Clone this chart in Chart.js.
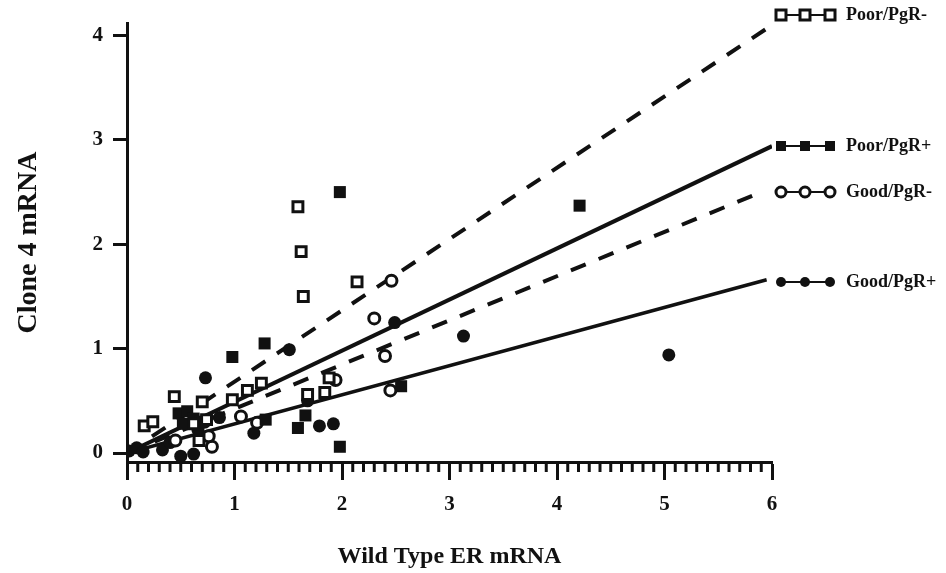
<!DOCTYPE html>
<html>
<head>
<meta charset="utf-8">
<script src="https://cdn.jsdelivr.net/npm/chart.js@4.4.1/dist/chart.umd.min.js"></script>
<style>
  html, body { margin: 0; padding: 0; background: #fff; }
  #wrap { width: 946px; height: 573px; }
</style>
</head>
<body>
<div id="wrap"><canvas id="myChart" width="946" height="573"></canvas></div>
<script>
// axis ticks
var xTicks = [0, 1, 2, 3, 4, 5, 6];
var yTicks = [0, 1, 2, 3, 4];

var seriesNames = ['Poor/PgR-', 'Poor/PgR+', 'Good/PgR-', 'Good/PgR+'];

// Poor/PgR- (open squares)
var poorNegX = [1.59, 1.62, 1.64, 2.14, 0.44, 0.16, 0.24, 0.70, 0.98, 1.12, 1.25, 0.67, 1.68, 1.84, 1.88, 0.62, 0.74];
var poorNegY = [2.36, 1.93, 1.50, 1.64, 0.54, 0.26, 0.30, 0.49, 0.51, 0.60, 0.67, 0.12, 0.56, 0.58, 0.72, 0.28, 0.32];

// Poor/PgR+ (filled squares)
var poorPosX = [1.98, 4.21, 1.28, 0.98, 1.66, 1.59, 1.98, 2.55, 1.29, 0.48, 0.56, 0.62, 0.68, 0.52];
var poorPosY = [2.50, 2.37, 1.05, 0.92, 0.36, 0.24, 0.06, 0.64, 0.32, 0.38, 0.40, 0.33, 0.30, 0.28];

// Good/PgR- (open circles)
var goodNegX = [2.46, 2.30, 2.40, 2.45, 1.94, 1.06, 1.21, 0.79, 0.76, 0.72, 0.45];
var goodNegY = [1.65, 1.29, 0.93, 0.60, 0.70, 0.35, 0.29, 0.06, 0.16, 0.30, 0.12];

// Good/PgR+ (filled circles)
var goodPosX = [0.73, 1.51, 2.49, 3.13, 5.04, 1.18, 1.79, 1.92, 0.33, 0.50, 0.62, 0.02, 0.09, 0.86, 1.68, 0.40, 0.15, 0.66];
var goodPosY = [0.72, 0.99, 1.25, 1.12, 0.94, 0.19, 0.26, 0.28, 0.03, -0.03, -0.01, 0.02, 0.05, 0.34, 0.50, 0.10, 0.01, 0.22];

// regression lines: start and end points
var fitX0 = [0, 0, 0, 0];
var fitY0 = [0, 0, 0, 0];
var fitX1 = [6.0, 6.0, 5.9, 5.95];
var fitY1 = [4.1, 2.94, 2.5, 1.66];

function pts(xs, ys) {
  return xs.map(function (x, i) { return {x: x, y: ys[i]}; });
}
function fit(i) {
  return [{x: fitX0[i], y: fitY0[i]}, {x: fitX1[i], y: fitY1[i]}];
}

var serif = "'Liberation Serif', 'Times New Roman', serif";

var minorTicks = {
  id: 'minorTicks',
  afterDraw: function (chart) {
    var ctx = chart.ctx;
    var xs = chart.scales.x;
    var y0 = chart.chartArea.bottom;
    ctx.save();
    ctx.strokeStyle = '#111';
    ctx.lineWidth = 3;
    for (var k = 1; k < 60; k++) {
      if (k % 10 === 0) continue;
      var px = xs.getPixelForValue(k / 10);
      ctx.beginPath();
      ctx.moveTo(px, y0);
      ctx.lineTo(px, y0 + 10);
      ctx.stroke();
    }
    ctx.restore();
  }
};

var sideLegend = {
  id: 'sideLegend',
  afterDraw: function (chart) {
    var ctx = chart.ctx;
    var rows = [15, 146, 192, 282];
    var styles = ['osq', 'fsq', 'oci', 'fci'];
    ctx.save();
    for (var i = 0; i < seriesNames.length; i++) {
      var y = rows[i];
      ctx.strokeStyle = '#111';
      ctx.lineWidth = 2;
      ctx.beginPath();
      ctx.moveTo(781, y);
      ctx.lineTo(830, y);
      ctx.stroke();
      [781, 805, 830].forEach(function (mx) {
        var s = styles[i];
        ctx.beginPath();
        if (s === 'osq' || s === 'fsq') {
          ctx.rect(mx - 5, y - 5, 10, 10);
        } else {
          ctx.arc(mx, y, 5, 0, Math.PI * 2);
        }
        if (s[0] === 'o') {
          ctx.fillStyle = '#fff';
          ctx.fill();
          ctx.lineWidth = 3;
          ctx.stroke();
        } else {
          ctx.fillStyle = '#111';
          ctx.fill();
        }
      });
      ctx.fillStyle = '#111';
      ctx.font = 'bold 18px ' + serif;
      ctx.textBaseline = 'middle';
      ctx.textAlign = 'left';
      ctx.fillText(seriesNames[i], 846, y);
    }
    ctx.restore();
  }
};

var ctx = document.getElementById('myChart').getContext('2d');
var myChart = new Chart(ctx, {
  type: 'scatter',
  data: {
    datasets: [
      {
        label: seriesNames[0],
        data: pts(poorNegX, poorNegY),
        pointStyle: 'rect',
        pointRadius: 7,
        pointBorderWidth: 3,
        pointBackgroundColor: '#fff',
        pointBorderColor: '#111',
        order: 1
      },
      {
        label: seriesNames[1],
        data: pts(poorPosX, poorPosY),
        pointStyle: 'rect',
        pointRadius: 8.5,
        pointBorderWidth: 0,
        pointBackgroundColor: '#111',
        pointBorderColor: '#111',
        order: 1
      },
      {
        label: seriesNames[2],
        data: pts(goodNegX, goodNegY),
        pointStyle: 'circle',
        pointRadius: 5.5,
        pointBorderWidth: 3,
        pointBackgroundColor: '#fff',
        pointBorderColor: '#111',
        order: 1
      },
      {
        label: seriesNames[3],
        data: pts(goodPosX, goodPosY),
        pointStyle: 'circle',
        pointRadius: 6.5,
        pointBorderWidth: 0,
        pointBackgroundColor: '#111',
        pointBorderColor: '#111',
        order: 1
      },
      {
        label: seriesNames[0] + ' fit',
        data: fit(0),
        showLine: true,
        pointRadius: 0,
        borderColor: '#111',
        borderWidth: 4,
        borderDash: [16, 14],
        order: 2
      },
      {
        label: seriesNames[1] + ' fit',
        data: fit(1),
        showLine: true,
        pointRadius: 0,
        borderColor: '#111',
        borderWidth: 4,
        order: 2
      },
      {
        label: seriesNames[2] + ' fit',
        data: fit(2),
        showLine: true,
        pointRadius: 0,
        borderColor: '#111',
        borderWidth: 4,
        borderDash: [16, 14],
        order: 2
      },
      {
        label: seriesNames[3] + ' fit',
        data: fit(3),
        showLine: true,
        pointRadius: 0,
        borderColor: '#111',
        borderWidth: 3.5,
        order: 2
      }
    ]
  },
  options: {
    responsive: false,
    animation: false,
    layout: { padding: { top: 23, right: 174, left: 0, bottom: 0 } },
    plugins: {
      legend: { display: false },
      tooltip: { enabled: false }
    },
    scales: {
      x: {
        type: 'linear',
        min: 0,
        max: 6,
        afterFit: function (s) { s.height = 111; },
        afterBuildTicks: function (s) { s.ticks = xTicks.map(function (v) { return {value: v}; }); },
        border: { display: true, width: 3, color: '#111' },
        grid: { drawOnChartArea: false, drawTicks: true, tickLength: 18, tickWidth: 3, tickColor: '#111' },
        ticks: {
          color: '#111',
          padding: 12,
          maxRotation: 0,
          font: { family: serif, size: 21, weight: 'bold' }
        },
        title: {
          display: true,
          text: 'Wild Type ER mRNA',
          color: '#111',
          padding: { top: 0, bottom: 2 },
          font: { family: serif, size: 24, weight: 'bold' }
        }
      },
      y: {
        type: 'linear',
        min: -0.086,
        max: 4.12,
        afterFit: function (s) { s.width = 127; },
        afterBuildTicks: function (s) { s.ticks = yTicks.map(function (v) { return {value: v}; }); },
        border: { display: true, width: 3, color: '#111' },
        grid: { drawOnChartArea: false, drawTicks: true, tickLength: 14, tickWidth: 3, tickColor: '#111' },
        ticks: {
          color: '#111',
          padding: 10,
          font: { family: serif, size: 21, weight: 'bold' }
        },
        title: {
          display: true,
          text: 'Clone 4 mRNA',
          color: '#111',
          padding: { top: 12, bottom: 0 },
          font: { family: serif, size: 28, weight: 'bold' }
        }
      }
    }
  },
  plugins: [minorTicks, sideLegend]
});
</script>
</body>
</html>
